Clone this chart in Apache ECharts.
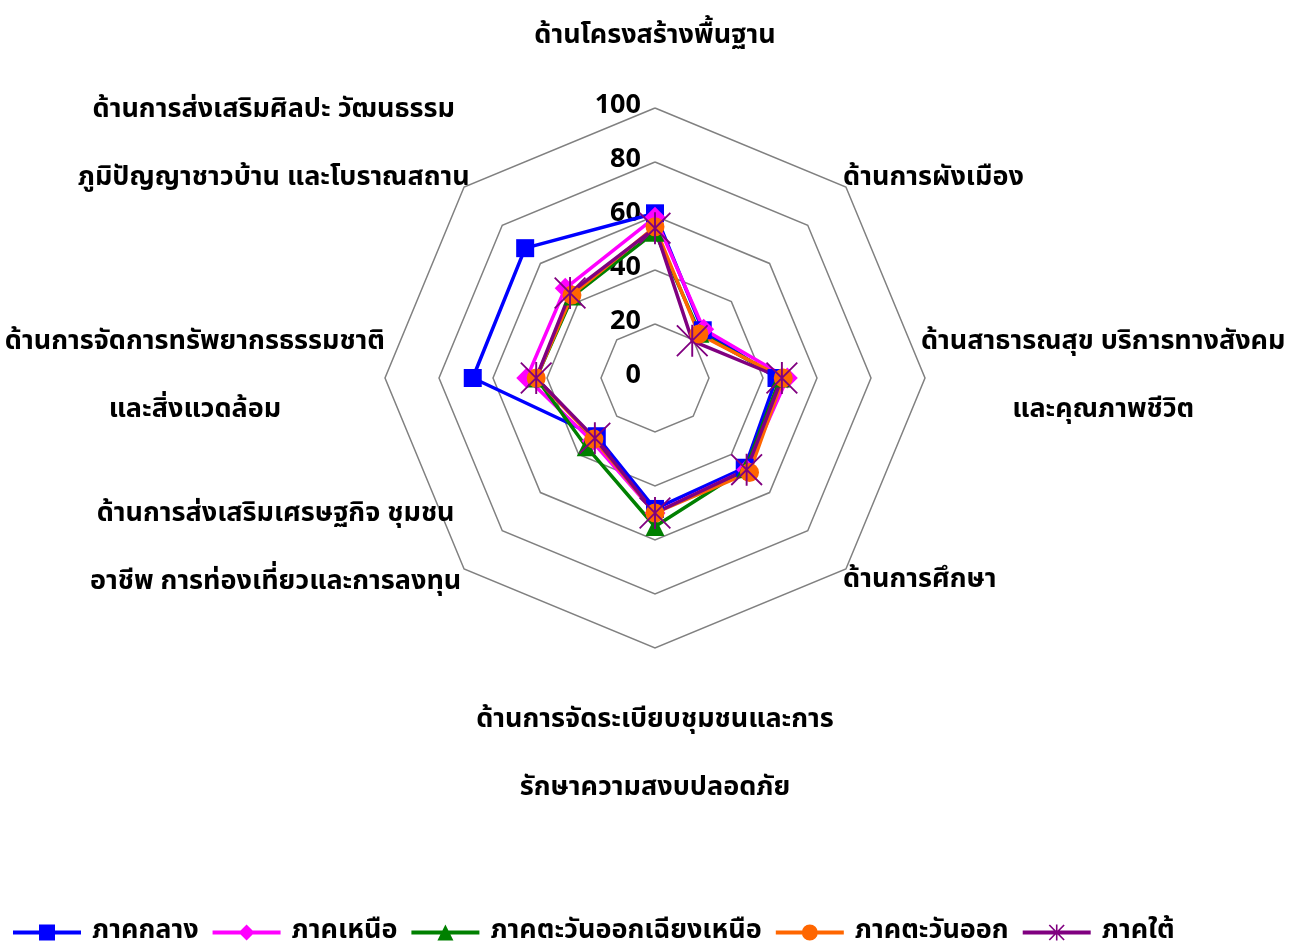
<!DOCTYPE html>
<html>
<head>
<meta charset="utf-8">
<script src="https://cdn.jsdelivr.net/npm/echarts@6/dist/echarts.min.js"></script>
<style>
  html, body { margin: 0; padding: 0; background: #fff; }
  #chart { width: 1301px; height: 951px; }
</style>
</head>
<body>
<div id="chart"></div>
<script>
// categories, clockwise from the top
var categories = [
  "ด้านโครงสร้างพื้นฐาน",
  "ด้านการผังเมือง",
  "ด้านสาธารณสุข บริการทางสังคม\nและคุณภาพชีวิต",
  "ด้านการศึกษา",
  "ด้านการจัดระเบียบชุมชนและการ\nรักษาความสงบปลอดภัย",
  "ด้านการส่งเสริมเศรษฐกิจ ชุมชน\nอาชีพ การท่องเที่ยวและการลงทุน",
  "ด้านการจัดการทรัพยากรธรรมชาติ\nและสิ่งแวดล้อม",
  "ด้านการส่งเสริมศิลปะ วัฒนธรรม\nภูมิปัญญาชาวบ้าน และโบราณสถาน"
];
var regionNames = ["ภาคกลาง", "ภาคเหนือ", "ภาคตะวันออกเฉียงเหนือ", "ภาคตะวันออก", "ภาคใต้"];
var central   = [61, 25, 45, 47, 48.5, 30.5, 67.5, 68];
var north     = [59.5, 25.5, 49, 48, 50, 33, 47.5, 47];
var northeast = [54, 23.5, 46.5, 47.5, 55, 36, 44, 43];
var east      = [56, 23, 47.5, 49.5, 50, 32, 44, 43.5];
var south     = [55.5, 19.5, 47, 48, 50, 31.5, 44, 44.5];
var tickLabels = [0, 20, 40, 60, 80, 100];

var FONT = "'Noto Sans Thai', 'Noto Sans', 'DejaVu Sans', sans-serif";

// echarts lays radar indicators counter-clockwise, so walk the list backwards
var order = [0, 7, 6, 5, 4, 3, 2, 1];
// per-axis name spacing (gap from the outer ring, padding to nudge up/down)
var nameGaps = [36, -4, -4, -4, 40, 4, 0, -8];
var namePads = [
  [0, 0, 0, 0], [0, 0, 20, 0], [0, 0, 0, 0], [30, 0, 0, 0],
  [0, 0, 0, 0], [0, 0, 44, 0], [0, 0, 0, 0], [0, 0, 94, 0]
];

var indicator = order.map(function (i, k) {
  var ind = { name: categories[i], min: 0, max: 100, nameGap: nameGaps[i],
    nameTextStyle: { padding: namePads[i] } };
  if (k === 0) {
    // value labels only on the top axis
    ind.axisLabel = { show: true };
  }
  return ind;
});
function reorder(arr) { return order.map(function (i) { return arr[i]; }); }

var starPath = "path://M47,0 L53,0 L53,100 L47,100 Z M0,4 L4,0 L100,96 L96,100 Z M96,0 L100,4 L4,100 L0,96 Z";

// legend icons: a line with the marker in the middle (box 68 x 16)
var legLine = "M0,6 L68,6 L68,10 L0,10 Z ";
var legendIcons = [
  "path://" + legLine + "M26,0 L42,0 L42,16 L26,16 Z",
  "path://" + legLine + "M34,0 L42,8 L34,16 L26,8 Z",
  "path://" + legLine + "M34,0 L42,16 L26,16 Z",
  "path://" + legLine + "M26,8 A8,8 0 1,1 42,8 A8,8 0 1,1 26,8 Z",
  "path://" + legLine + "M33.2,0 L34.8,0 L34.8,16 L33.2,16 Z M26,1 L27.2,0 L42,15 L40.8,16 Z M40.8,0 L42,1 L27.2,16 L26,15 Z"
];

function region(name, values, color, symbol, size) {
  return {
    name: name,
    type: "radar",
    symbol: symbol,
    symbolSize: size,
    lineStyle: { color: color, width: 3.5 },
    itemStyle: { color: color },
    data: [{ name: name, value: reorder(values) }]
  };
}

var myChart = echarts.init(document.getElementById("chart"));
var option = {
  animation: false,
  legend: {
    data: regionNames.map(function (n, i) { return { name: n, icon: legendIcons[i] }; }),
    left: 8,
    top: 914,
    itemWidth: 68,
    itemHeight: 16,
    itemGap: 14,
    textStyle: { fontSize: 27, fontWeight: "bold", color: "#000", fontFamily: FONT, padding: [0, 0, 0, 6] }
  },
  radar: {
    center: [655, 378],
    radius: 270,
    startAngle: 90,
    shape: "polygon",
    splitNumber: 5,
    axisLine: { show: false },
    splitLine: { lineStyle: { color: "#808080", width: 1.5 } },
    splitArea: { show: false },
    axisTick: { show: false },
    axisLabel: {
      show: false,
      fontSize: 27,
      fontWeight: "bold",
      color: "#000",
      fontFamily: FONT,
      margin: 14,
      showMinLabel: true,
      showMaxLabel: true,
      formatter: function (v) { return tickLabels.indexOf(v) >= 0 ? String(v) : ""; }
    },
    axisName: {
      color: "#000",
      fontSize: 27,
      fontWeight: "bold",
      fontFamily: FONT,
      formatter: function (name) {
        return name.split("\n").map(function (s) { return "{c|" + s + "}"; }).join("\n");
      },
      rich: {
        c: { fontSize: 27, fontWeight: "bold", lineHeight: 68, align: "center", color: "#000", fontFamily: FONT }
      }
    },
    indicator: indicator
  },
  series: [
    region(regionNames[0], central, "#0000FF", "rect", 18),
    region(regionNames[1], north, "#FF00FF", "diamond", 21),
    region(regionNames[2], northeast, "#008000", "triangle", 19),
    region(regionNames[3], east, "#FF6600", "circle", 19),
    region(regionNames[4], south, "#800080", starPath, 32)
  ]
};
myChart.setOption(option);
</script>
</body>
</html>
